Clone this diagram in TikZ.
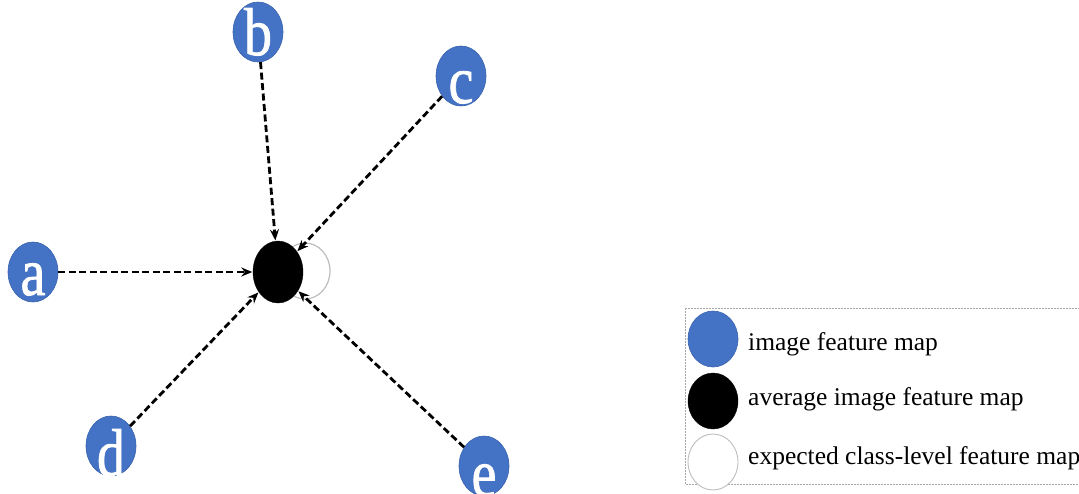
\documentclass[tikz,border=0pt]{standalone}
\usepackage{fontspec}
\setmainfont{Liberation Serif}
\newfontfamily\lettf{Liberation Serif}[FakeBold=1.2]
\usetikzlibrary{arrows.meta,shapes.geometric}
\definecolor{fmblue}{HTML}{4472C4}
\definecolor{fmedge}{HTML}{3A63AD}
\definecolor{ringgray}{HTML}{BDBDBD}
\tikzset{
  fmap/.style={ellipse, fill=fmblue, draw=fmedge, line width=0.6pt, minimum width=50pt, minimum height=60pt, inner sep=0pt},
  avgmap/.style={ellipse, fill=black, draw=black, minimum width=50pt, minimum height=62pt, inner sep=0pt},
  expmap/.style={ellipse, fill=white, draw=ringgray, line width=1.2pt, minimum width=50pt, minimum height=56pt, inner sep=0pt},
  letter/.style={text=white, font=\lettf\fontsize{25.5}{25.5}\selectfont, inner sep=0pt, anchor=base},
  flow/.style={dash pattern=on 7pt off 3.5pt, line width=2.8pt, -{Stealth[length=11pt,width=9pt]}, shorten >=0.5pt},
  legtext/.style={font=\fontsize{25.5}{25.5}\selectfont, anchor=base west, inner sep=0pt},
  legbox/.style={draw=gray!70, dash pattern=on 2pt off 1pt, line width=0.7pt}
}
\begin{document}
\begin{tikzpicture}[x=1pt,y=-1pt]
\useasboundingbox (0,0) rectangle (1079,493);
% legend box
\draw[legbox] (685,308) -- (1085,308) (685,308) -- (685,484) -- (1085,484);
% central maps
\node[expmap] (exp) at (305,271) {};
\node[avgmap] (avg) at (278,272) {};
% image feature maps
\node[fmap] (a) at (33,272) {};
\node[fmap] (b) at (258,32) {};
\node[fmap] (c) at (461,76) {};
\node[fmap] (d) at (111,446) {};
\node[fmap] (e) at (484,466) {};
\node[letter] (la) at ([yshift=-23pt]a.center) {\scalebox{2.2}[2.65]{a}};
\node[letter] (lb) at ([yshift=-23pt]b.center) {\scalebox{2.2}[2.65]{b}};
\node[letter] (lc) at ([yshift=-27pt]c.center) {\scalebox{2.2}[2.65]{c}};
\node[letter] (ld) at ([yshift=-30pt]d.center) {\scalebox{2.2}[2.65]{d}};
\node[letter] (le) at ([yshift=-30pt]e.center) {\scalebox{2.2}[2.65]{e}};
% arrows
\draw[flow] (a) -- (avg);
\draw[flow] (b) -- (avg);
\draw[flow] (c) -- (avg);
\draw[flow] (d) -- (avg);
\draw[flow] (e) -- (avg);
% legend
\node[fmap, minimum width=50pt, minimum height=56pt] (l1) at (713,339) {};
\node[avgmap, minimum width=50pt, minimum height=56pt] (l2) at (713,401) {};
\node[expmap, line width=0.9pt, minimum width=50pt, minimum height=56pt] (l3) at (713,462) {};
\node[legtext] (t1) at (748,350) {image feature map};
\node[legtext] (t2) at (748,405) {average image feature map};
\node[legtext] (t3) at (748,464) {expected class-level feature map};
\end{tikzpicture}
\end{document}
